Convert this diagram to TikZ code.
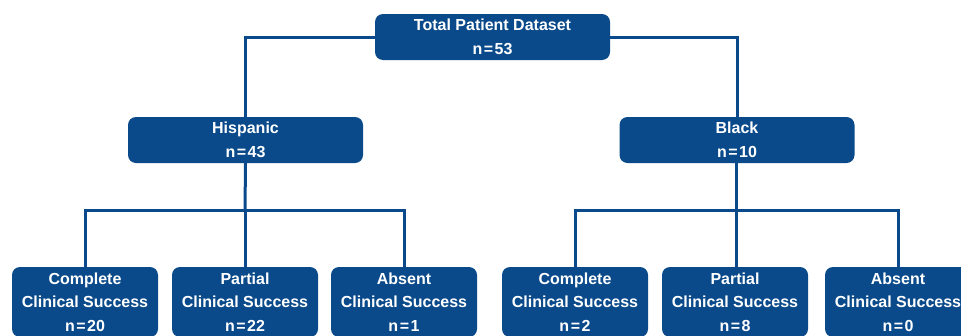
\documentclass[tikz,border=0pt]{standalone}
\usepackage{fontspec}
\setmainfont{Liberation Sans}
\definecolor{cblue}{RGB}{10,74,138}
\newcommand{\eqn}{\kern1.5pt=\kern1.5pt}
\begin{document}
\begin{tikzpicture}[x=1pt,y=-1pt,
  box/.style={fill=cblue, rounded corners=8pt, text=white,
    font=\bfseries\fontsize{16}{23.5}\selectfont, align=center,
    inner sep=0pt},
  midbox/.style={box, minimum width=235pt, minimum height=46pt},
  leafbox/.style={box, minimum width=146pt, minimum height=70pt},
  conn/.style={draw=cblue, line width=3pt}]
\useasboundingbox (0,0) rectangle (961,335);
\clip (0,0) rectangle (961,335);
\node[midbox] (top) at (492.5,37) {Total Patient Dataset\\n\eqn53};
\node[midbox] (hisp) at (245.5,140) {Hispanic\\n\eqn43};
\node[midbox] (black) at (737,140) {Black\\n\eqn10};
\node[leafbox] (b1) at (85,302) {Complete\\Clinical Success\\n\eqn20};
\node[leafbox] (b2) at (245,302) {Partial\\Clinical Success\\n\eqn22};
\node[leafbox] (b3) at (404,302) {Absent\\Clinical Success\\n\eqn1};
\node[leafbox] (b4) at (575,302) {Complete\\Clinical Success\\n\eqn2};
\node[leafbox] (b5) at (735,302) {Partial\\Clinical Success\\n\eqn8};
\node[leafbox] (b6) at (898,302) {Absent\\Clinical Success\\n\eqn0};
\coordinate (hj) at (245,210);
\coordinate (bj) at (736,210);
\draw[conn] (top.west) -| (hisp.north);
\draw[conn] (top.east) -| (black.north);
\draw[conn] (hisp.south) -- (hj);
\draw[conn] (b1.north) |- (hj) -| (b3.north);
\draw[conn] (hj) -- (b2.north);
\draw[conn] (black.south -| bj) -- (bj);
\draw[conn] (b4.north) |- (bj) -| (b6.north);
\draw[conn] (bj) -- (b5.north -| bj);
\end{tikzpicture}
\end{document}
